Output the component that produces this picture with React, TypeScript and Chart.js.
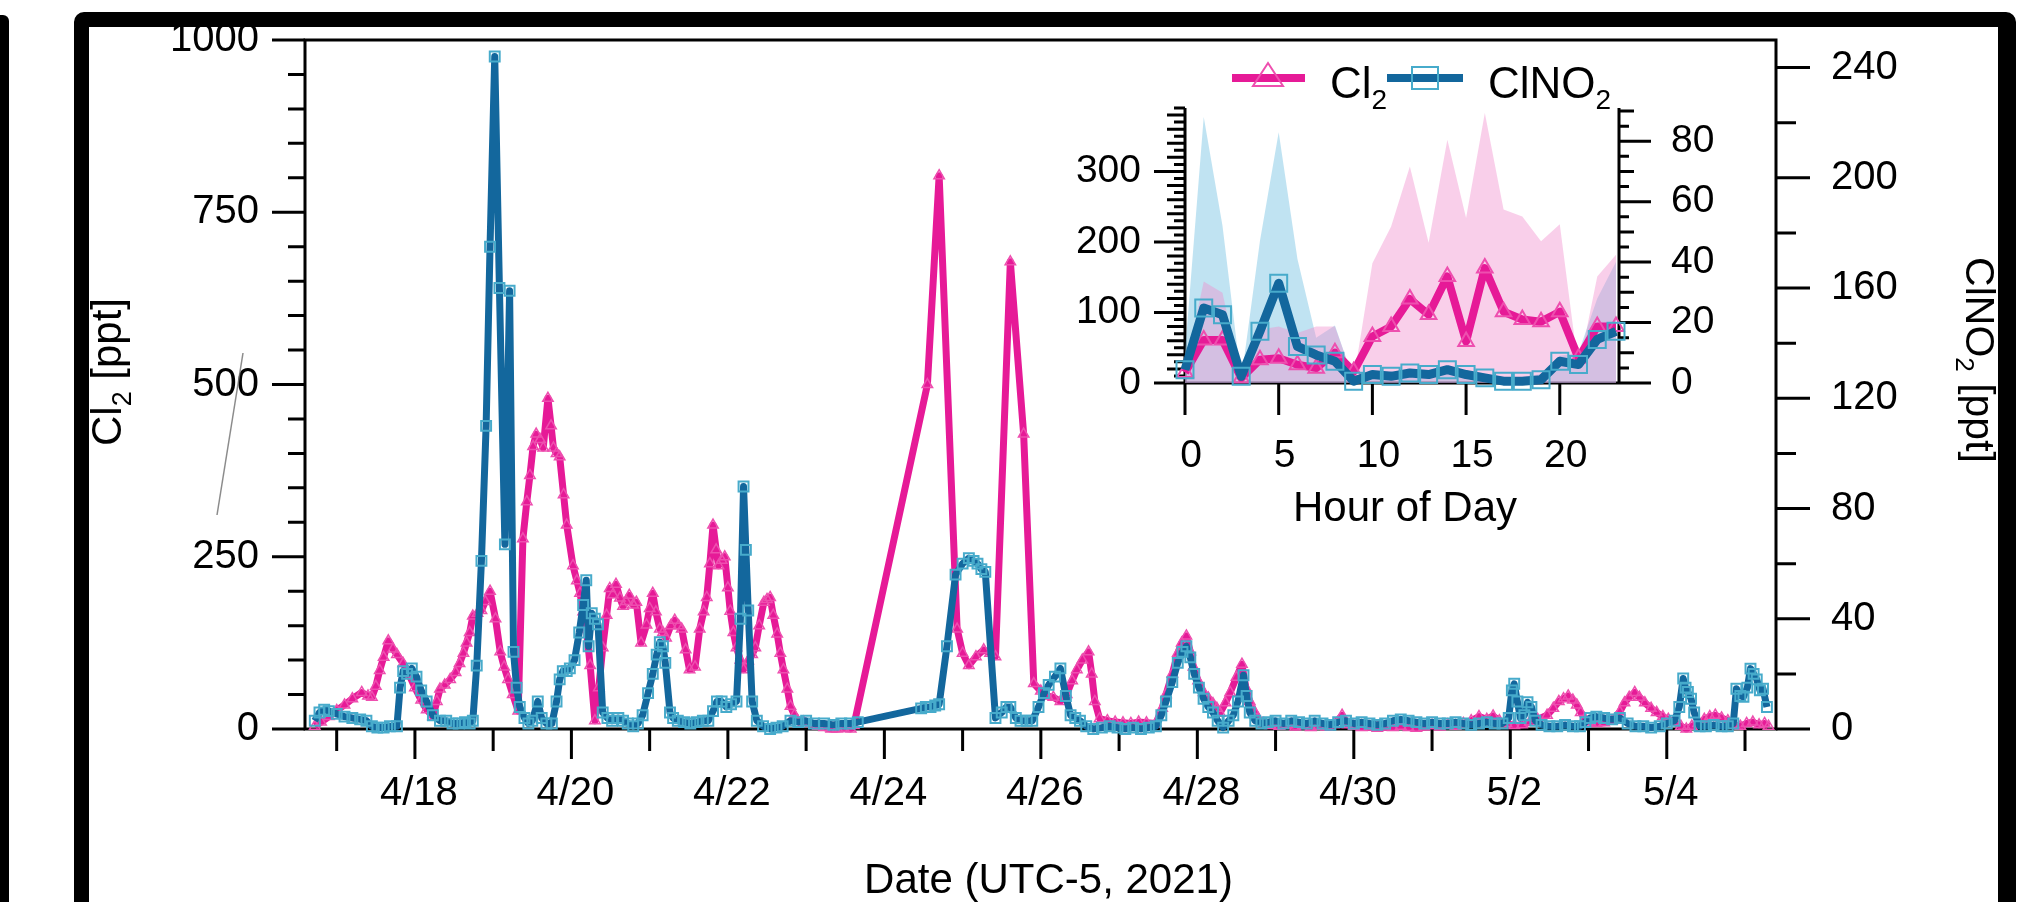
import React, { useEffect, useRef } from 'react';
import { Chart, registerables } from 'chart.js';

Chart.register(...registerables);

const W = 2027;
const H = 902;
const FONT = '"Liberation Sans", Arial, Helvetica, sans-serif';

// ---------------- Main time series (x = day of April 2021, May 1 = 31; UTC-5) ----------------
const cl2Days = [
  16.72, 16.8, 16.9, 17.0, 17.1, 17.2, 17.32, 17.4, 17.45, 17.5, 17.55, 17.6, 17.66, 17.72, 17.77, 17.85, 17.92, 18.0,
  18.08, 18.15, 18.23, 18.28, 18.32, 18.38, 18.45, 18.52, 18.57, 18.62, 18.66, 18.7, 18.74, 18.8, 18.85, 18.9, 18.96,
  19.03, 19.09, 19.14, 19.19, 19.25, 19.32, 19.38, 19.43, 19.47, 19.51, 19.55, 19.6, 19.64, 19.7, 19.74, 19.77, 19.81,
  19.85, 19.9, 19.94, 20.02, 20.07, 20.11, 20.15, 20.19, 20.24, 20.3, 20.35, 20.4, 20.45, 20.49, 20.53, 20.57, 20.62,
  20.66, 20.7, 20.74, 20.79, 20.83, 20.89, 20.96, 21.0, 21.04, 21.08, 21.13, 21.17, 21.21, 21.27, 21.32, 21.37, 21.41,
  21.46, 21.51, 21.58, 21.64, 21.69, 21.73, 21.77, 21.81, 21.85, 21.88, 21.92, 21.96, 22.0, 22.03, 22.07, 22.11, 22.16,
  22.2, 22.26, 22.31, 22.35, 22.4, 22.46, 22.5, 22.54, 22.58, 22.63, 22.67, 22.71, 22.76, 22.8, 22.85, 22.89, 22.97,
  23.06, 23.15, 23.23, 23.32, 23.4, 23.48, 23.57, 23.61, 24.55, 24.7, 24.93, 25.0, 25.08, 25.17, 25.27, 25.35, 25.42,
  25.61, 25.78, 25.91, 26.0, 26.08, 26.16, 26.25, 26.33, 26.4, 26.46, 26.53, 26.61, 26.65, 26.69, 26.75, 26.85, 26.95,
  27.05, 27.15, 27.25, 27.35, 27.47, 27.55, 27.6, 27.68, 27.75, 27.8, 27.86, 27.91, 27.95, 28.01, 28.08, 28.14, 28.2,
  28.25, 28.29, 28.36, 28.42, 28.5, 28.57, 28.62, 28.67, 28.72, 28.78, 28.85, 28.93, 29.05, 29.15, 29.25, 29.35, 29.45,
  29.55, 29.65, 29.75, 29.85, 29.92, 30.0, 30.1, 30.2, 30.3, 30.4, 30.5, 30.6, 30.7, 30.8, 30.9, 31.0, 31.1, 31.2, 31.3,
  31.4, 31.5, 31.6, 31.7, 31.78, 31.86, 31.95, 32.05, 32.15, 32.25, 32.35, 32.47, 32.55, 32.62, 32.68, 32.74, 32.8,
  32.85, 32.9, 32.95, 33.02, 33.1, 33.2, 33.3, 33.4, 33.46, 33.52, 33.59, 33.65, 33.72, 33.8, 33.87, 33.95, 34.02, 34.1,
  34.18, 34.25, 34.32, 34.4, 34.48, 34.55, 34.62, 34.7, 34.78, 34.86, 34.94, 35.02, 35.1, 35.18, 35.25, 35.3,
];
const cl2Ppt = [
  4, 10, 18, 27, 35, 44, 53, 48, 46, 62, 85, 104, 128, 116, 108, 95, 80, 60,
  42, 28, 18, 40, 58, 64, 72, 82, 95, 110, 125, 140, 164, 168, 172, 185, 200,
  160, 112, 90, 72, 50, 26, 276, 330, 368, 410, 428, 420, 408, 480, 440, 408, 400,
  395, 340, 296, 237, 215, 197, 170, 145, 92, 12, 60, 118, 165, 204, 195, 210, 190,
  178, 185, 194, 180, 184, 125, 151, 175, 197, 170, 145, 140, 132, 150, 158, 150, 145,
  115, 86, 90, 145, 170, 191, 240, 296, 260, 237, 245, 250, 205, 171, 140, 118, 100,
  86, 99, 108, 118, 150, 184, 188, 191, 165, 138, 110, 86, 58, 33, 20, 13, 10,
  8, 4, 2, 0, 0, 1, 0, 5, 500, 803, 145, 110, 92, 105, 115, 110, 105,
  678, 428, 66, 55, 48, 46, 40, 50, 70, 86, 100, 112, 80, 40, 15, 12, 10,
  9, 8, 10, 9, 8, 30, 50, 80, 110, 125, 135, 112, 90, 70, 53, 45, 37,
  30, 23, 38, 53, 75, 94, 60, 40, 27, 15, 8, 5, 4, 6, 3, 5, 2,
  4, 3, 6, 20, 6, 4, 2, 3, 1, 3, 2, 4, 2, 1, 3, 5, 3, 6, 4,
  8, 12, 18, 14, 19, 12, 8, 5, 6, 10, 14, 20, 30, 40, 44, 48, 42,
  35, 24, 15, 10, 8, 9, 12, 25, 38, 46, 53, 46, 38, 30, 24, 18, 14, 10,
  4, 0, 4, 8, 14, 18, 20, 16, 12, 6, 4, 8, 10, 6, 8, 4,
];

const clno2Days = [
  16.72, 16.78, 16.84, 16.9, 17.0, 17.1, 17.2, 17.3, 17.38, 17.45, 17.52, 17.6, 17.68, 17.77, 17.81, 17.85, 17.9, 17.96,
  18.02, 18.08, 18.15, 18.23, 18.32, 18.4, 18.48, 18.56, 18.64, 18.7, 18.74, 18.79, 18.85, 18.91, 18.96, 19.02, 19.08,
  19.15, 19.21, 19.26, 19.3, 19.34, 19.4, 19.45, 19.5, 19.57, 19.62, 19.68, 19.75, 19.81, 19.85, 19.89, 19.94, 19.98,
  20.04, 20.1, 20.15, 20.19, 20.22, 20.26, 20.3, 20.34, 20.4, 20.46, 20.52, 20.6, 20.66, 20.72, 20.79, 20.85, 20.91,
  20.98, 21.04, 21.09, 21.13, 21.17, 21.2, 21.26, 21.3, 21.36, 21.44, 21.52, 21.6, 21.68, 21.75, 21.81, 21.86, 21.92,
  21.98, 22.04, 22.11, 22.16, 22.2, 22.23, 22.26, 22.31, 22.37, 22.45, 22.54, 22.62, 22.7, 22.8, 22.9, 23.0, 23.1,
  23.23, 23.35, 23.45, 23.56, 23.66, 24.47, 24.53, 24.59, 24.65, 24.7, 24.8, 24.91, 25.0, 25.08, 25.14, 25.19, 25.24,
  25.29, 25.42, 25.5, 25.56, 25.61, 25.68, 25.74, 25.82, 25.89, 25.97, 26.04, 26.1, 26.18, 26.25, 26.32, 26.38, 26.44,
  26.5, 26.58, 26.67, 26.78, 26.88, 26.98, 27.08, 27.18, 27.28, 27.38, 27.47, 27.54, 27.6, 27.68, 27.75, 27.81, 27.86,
  27.91, 27.96, 28.02, 28.08, 28.14, 28.2, 28.26, 28.33, 28.4, 28.46, 28.52, 28.59, 28.63, 28.67, 28.74, 28.82, 28.9,
  29.0, 29.1, 29.2, 29.3, 29.4, 29.5, 29.6, 29.7, 29.8, 29.9, 30.0, 30.1, 30.2, 30.3, 30.4, 30.5, 30.6, 30.7, 30.8,
  30.9, 31.0, 31.1, 31.2, 31.3, 31.4, 31.5, 31.6, 31.7, 31.8, 31.9, 31.98, 32.02, 32.05, 32.09, 32.13, 32.18, 32.22,
  32.27, 32.32, 32.4, 32.5, 32.6, 32.7, 32.8, 32.89, 32.96, 33.02, 33.1, 33.2, 33.3, 33.4, 33.5, 33.6, 33.7, 33.8,
  33.91, 34.0, 34.1, 34.16, 34.21, 34.24, 34.27, 34.31, 34.35, 34.42, 34.5, 34.6, 34.7, 34.78, 34.85, 34.89, 34.94,
  34.98, 35.03, 35.07, 35.11, 35.15, 35.19, 35.23, 35.28,
];
const clno2Ppt = [
  3, 6, 7, 6.5, 5.5, 4.5, 4, 3.5, 3, 1, 0.5, 0.5, 1, 1, 15, 21, 20, 22,
  19, 14, 10, 5, 3, 3, 2, 2, 2.5, 2, 3, 23, 61, 110, 175, 244, 160,
  67, 159, 28, 15, 8, 4, 2, 3, 10, 4, 2, 2, 10, 18, 21, 21, 22,
  25, 35, 45, 54, 30, 42, 40, 38, 6, 4, 3, 4, 3, 2, 1, 2, 5,
  13, 20, 27, 31.5, 30, 24, 6, 4, 3, 2.5, 2, 2.5, 3, 3, 6.5, 10, 10,
  8, 9, 10, 40, 88, 65, 43, 10, 3, 1, 0, 0.5, 1, 3, 2.5, 3, 2,
  2, 1.5, 2, 2, 2.5, 7.5, 8, 8, 8.5, 9, 30, 56, 60, 62, 61, 60, 58,
  57, 4, 6, 8, 8, 4, 3, 3, 3, 8, 13, 16, 19, 22, 12, 5, 4,
  3, 1, 0, 0.5, 1, 0.5, 0, 0.5, 0, 0.5, 1, 5, 10, 17, 24, 28, 30,
  26, 20, 15, 11, 8, 6, 3, 0.5, 3, 5, 10, 19.5, 12, 6, 3, 2, 2.5,
  3, 2, 3, 2.5, 2, 3, 2, 1.5, 2.5, 3, 2, 2.5, 2, 1.5, 2, 3, 3.5, 3, 2.5,
  2, 2.5, 2, 2, 2.5, 2, 1.5, 2, 2.5, 2, 2, 4, 14, 16.4, 10, 4, 5, 9.7,
  8, 3, 1.5, 1, 1, 1.5, 1, 1, 2.5, 4, 4.5, 4, 3.5, 4, 2, 1, 1, 0.5,
  1, 2, 3, 8, 18.3, 15, 13.4, 11, 6, 1, 1, 1.5, 1, 1, 2, 14.6, 12,
  11.7, 15, 21.9, 20, 18, 14, 14.6, 8,
];

// Axis ticks (main)
const dateTickDays = [18, 20, 22, 24, 26, 28, 30, 32, 34];
const dateTickLabels = ['4/18', '4/20', '4/22', '4/24', '4/26', '4/28', '4/30', '5/2', '5/4'];
const cl2AxisTicks = [0, 250, 500, 750, 1000];
const clno2AxisTicks = [0, 40, 80, 120, 160, 200, 240];

// ---------------- Inset: diurnal profile ----------------
const hourOfDay = [0, 1, 2, 3, 4, 5, 6, 7, 8, 9, 10, 11, 12, 13, 14, 15, 16, 17, 18, 19, 20, 21, 22, 23];
const cl2HourMean = [15, 61, 61, 7, 33, 35, 26, 21, 43, 16, 66, 80, 119, 97, 151, 59, 163, 101, 90, 87, 101, 35, 80, 80];
const cl2HourUpper = [20, 144, 128, 5, 76, 80, 71, 80, 80, 5, 170, 222, 307, 199, 345, 234, 383, 246, 236, 201, 225, 19, 151, 182];
const clno2HourMean = [4.4, 24.8, 22.6, 2.2, 17.1, 33, 12.1, 9.3, 7.2, 0.6, 2.8, 2.2, 3.3, 2.8, 4.4, 2.8, 1.7, 0.6, 0.6, 1.1, 7.2, 6.1, 14.4, 17.1];
const clno2HourUpper = [10, 88, 52, 1, 47, 83, 41, 15, 19, 1, 4, 4, 4, 4, 5, 4, 3, 2, 2, 3, 9, 10, 28, 40];
const hourTicks = [0, 5, 10, 15, 20];
const insetCl2Ticks = [0, 100, 200, 300];
const insetClno2Ticks = [0, 20, 40, 60, 80];

// ---------------- Styles ----------------
const PINK = '#E61A97';
const PINK_MARK = '#EE4FAF';
const BLUE = '#13679D';
const TEAL = '#47ABCB';
const PINK_FILL = 'rgba(240,140,205,0.42)';
const BLUE_FILL = 'rgba(130,200,230,0.5)';

const MAIN_AREA = { left: 305, top: 40, right: 1776, bottom: 729 };
const INSET_AREA = { left: 1185, top: 108, right: 1619, bottom: 383 };
const X_MIN = 16.595;
const X_MAX = 35.396;

type Seg = { t: string; sub?: boolean };

function drawRich(ctx: any, segs: Seg[], x: number, y: number, angle: number, size: number, align = 'center') {
  ctx.save();
  ctx.translate(x, y);
  ctx.rotate(angle);
  const subSize = Math.round(size * 0.64);
  let total = 0;
  const widths = segs.map((s) => {
    ctx.font = `${s.sub ? subSize : size}px ${FONT}`;
    const w = ctx.measureText(s.t).width;
    total += w;
    return w;
  });
  let cx = align === 'center' ? -total / 2 : 0;
  ctx.fillStyle = '#000';
  ctx.textAlign = 'left';
  ctx.textBaseline = 'alphabetic';
  segs.forEach((s, i) => {
    ctx.font = `${s.sub ? subSize : size}px ${FONT}`;
    ctx.fillText(s.t, cx, s.sub ? size * 0.24 : 0);
    cx += widths[i];
  });
  ctx.restore();
}

const mainDecor = {
  id: 'mainDecor',
  beforeDatasetsDraw(chart: any) {
    const { ctx, chartArea: ca } = chart;
    const sx = chart.scales.x;
    const sl = chart.scales.y;
    const sr = chart.scales.y1;
    ctx.save();
    ctx.strokeStyle = '#000';
    ctx.lineWidth = 3;
    ctx.lineCap = 'butt';
    ctx.beginPath();
    ctx.rect(ca.left, ca.top, ca.right - ca.left, ca.bottom - ca.top);
    ctx.stroke();
    ctx.beginPath();
    for (let v = 0; v <= 1000; v += 50) {
      const y = sl.getPixelForValue(v);
      const len = cl2AxisTicks.includes(v) ? 33 : 17;
      ctx.moveTo(ca.left - len, y);
      ctx.lineTo(ca.left, y);
    }
    for (let v = 0; v <= 240; v += 20) {
      const y = sr.getPixelForValue(v);
      const len = clno2AxisTicks.includes(v) ? 34 : 20;
      ctx.moveTo(ca.right, y);
      ctx.lineTo(ca.right + len, y);
    }
    for (let d = 17; d <= 35; d++) {
      const x = sx.getPixelForValue(d);
      const len = dateTickDays.includes(d) ? 30 : 22;
      ctx.moveTo(x, ca.bottom);
      ctx.lineTo(x, ca.bottom + len);
    }
    ctx.stroke();
    // faint stray stroke near the left title, as in the source figure
    ctx.strokeStyle = 'rgba(110,110,110,0.8)';
    ctx.lineWidth = 1.5;
    ctx.beginPath();
    ctx.moveTo(ca.left - 62, ca.top + 313);
    ctx.lineTo(ca.left - 88, ca.top + 475);
    ctx.stroke();
    ctx.restore();
  },
  afterDraw(chart: any) {
    const { ctx, chartArea: ca } = chart;
    drawRich(ctx, [{ t: 'Date (UTC-5, 2021)' }], (ca.left + ca.right) / 2 + 8, 893, 0, 42);
    drawRich(ctx, [{ t: 'Cl' }, { t: '2', sub: true }, { t: ' [ppt]' }], 121, 372, -Math.PI / 2, 42);
    drawRich(ctx, [{ t: 'ClNO' }, { t: '2', sub: true }, { t: ' [ppt]' }], 1966, 360, Math.PI / 2, 41);
  },
};

const insetDecor = {
  id: 'insetDecor',
  beforeDatasetsDraw(chart: any) {
    const { ctx, chartArea: ca } = chart;
    const sx = chart.scales.x;
    const sl = chart.scales.yl;
    const sr = chart.scales.yr;
    ctx.save();
    ctx.strokeStyle = '#000';
    ctx.lineWidth = 3;
    ctx.beginPath();
    ctx.moveTo(ca.left, ca.top);
    ctx.lineTo(ca.left, ca.bottom);
    ctx.lineTo(ca.right, ca.bottom);
    ctx.lineTo(ca.right, ca.top);
    for (let v = 0; v <= 390; v += 10) {
      const y = sl.getPixelForValue(v);
      const len = v % 100 === 0 ? 31 : v % 20 === 0 ? 18 : 11;
      ctx.moveTo(ca.left - len, y);
      ctx.lineTo(ca.left, y);
    }
    for (let v = 0; v <= 90; v += 5) {
      const y = sr.getPixelForValue(v);
      const len = v % 20 === 0 ? 32 : v % 10 === 0 ? 15 : 10;
      ctx.moveTo(ca.right, y);
      ctx.lineTo(ca.right + len, y);
    }
    hourTicks.forEach((h) => {
      const x = sx.getPixelForValue(h);
      ctx.moveTo(x, ca.bottom);
      ctx.lineTo(x, ca.bottom + 32);
    });
    ctx.stroke();
    ctx.restore();
  },
  afterDraw(chart: any) {
    const { ctx, chartArea: ca } = chart;
    drawRich(ctx, [{ t: 'Hour of Day' }], (ca.left + ca.right) / 2 + 3, 521, 0, 42);
    // legend
    const ly = ca.top - 30;
    const ty = ca.top - 10;
    ctx.save();
    ctx.lineCap = 'butt';
    ctx.strokeStyle = PINK;
    ctx.lineWidth = 8;
    ctx.beginPath();
    ctx.moveTo(ca.left + 47, ly);
    ctx.lineTo(ca.left + 120, ly);
    ctx.stroke();
    const tx = ca.left + 83;
    ctx.strokeStyle = PINK_MARK;
    ctx.lineWidth = 2;
    ctx.beginPath();
    ctx.moveTo(tx, ly - 15);
    ctx.lineTo(tx + 15, ly + 8);
    ctx.lineTo(tx - 15, ly + 8);
    ctx.closePath();
    ctx.stroke();
    ctx.strokeStyle = BLUE;
    ctx.lineWidth = 8;
    ctx.beginPath();
    ctx.moveTo(ca.left + 202, ly);
    ctx.lineTo(ca.left + 278, ly);
    ctx.stroke();
    ctx.strokeStyle = TEAL;
    ctx.lineWidth = 2;
    ctx.strokeRect(ca.left + 240 - 13, ly - 11, 26, 22);
    ctx.restore();
    drawRich(ctx, [{ t: 'Cl' }, { t: '2', sub: true }], ca.left + 145, ty, 0, 44, 'left');
    drawRich(ctx, [{ t: 'ClNO' }, { t: '2', sub: true }], ca.left + 303, ty, 0, 44, 'left');
  },
};

const tickFont = (size: number) => ({ family: FONT, size });

function fixedTicks(values: number[]) {
  return (s: any) => {
    s.ticks = values.map((v) => ({ value: v }));
  };
}

function noPadV(size: number, key: 'width' | 'height') {
  return (s: any) => {
    s[key] = size;
    s.paddingTop = 0;
    s.paddingBottom = 0;
    s.paddingLeft = 0;
    s.paddingRight = 0;
  };
}

function mainConfig(): any {
  return {
    type: 'line',
    data: {
      datasets: [
        {
          label: 'ClNO2',
          data: clno2Days.map((d, i) => ({ x: d, y: clno2Ppt[i] })),
          yAxisID: 'y1',
          borderColor: BLUE,
          borderWidth: 7,
          borderJoinStyle: 'round',
          pointStyle: 'rect',
          pointRadius: 7,
          pointBorderWidth: 2,
          pointBorderColor: TEAL,
          pointBackgroundColor: 'rgba(0,0,0,0)',
          order: 0,
          clip: false,
        },
        {
          label: 'Cl2',
          data: cl2Days.map((d, i) => ({ x: d, y: cl2Ppt[i] })),
          yAxisID: 'y',
          borderColor: PINK,
          borderWidth: 7,
          borderJoinStyle: 'round',
          pointStyle: 'triangle',
          pointRadius: 6,
          pointBorderWidth: 1.5,
          pointBorderColor: PINK_MARK,
          pointBackgroundColor: 'rgba(0,0,0,0)',
          order: 1,
          clip: false,
        },
      ],
    },
    options: {
      responsive: false,
      animation: false,
      devicePixelRatio: 1,
      events: [],
      layout: { padding: { left: 0, right: 0, top: MAIN_AREA.top, bottom: 0 }, autoPadding: false },
      plugins: { legend: { display: false }, tooltip: { enabled: false } },
      scales: {
        x: {
          type: 'linear',
          min: X_MIN,
          max: X_MAX,
          grid: { display: false, drawTicks: false },
          border: { display: false },
          afterBuildTicks: fixedTicks(dateTickDays),
          ticks: {
            autoSkip: false,
            maxRotation: 0,
            padding: 41,
            labelOffset: 4,
            color: '#000',
            font: tickFont(40),
            callback: (_v: number, i: number) => dateTickLabels[i],
          },
          afterFit: noPadV(H - MAIN_AREA.bottom, 'height'),
        },
        y: {
          position: 'left',
          min: 0,
          max: 1000,
          grid: { display: false, drawTicks: false },
          border: { display: false },
          afterBuildTicks: fixedTicks(cl2AxisTicks),
          ticks: { padding: 46, color: '#000', font: tickFont(40), callback: (v: number) => String(v) },
          afterFit: noPadV(MAIN_AREA.left, 'width'),
        },
        y1: {
          position: 'right',
          min: 0,
          max: 250,
          grid: { display: false, drawTicks: false },
          border: { display: false },
          afterBuildTicks: fixedTicks(clno2AxisTicks),
          ticks: { padding: 55, color: '#000', font: tickFont(40), callback: (v: number) => String(v) },
          afterFit: noPadV(W - MAIN_AREA.right, 'width'),
        },
      },
    },
    plugins: [mainDecor],
  };
}

function insetConfig(): any {
  const wl = 200;
  const wr = 200;
  const hx = 150;
  return {
    type: 'line',
    data: {
      datasets: [
        {
          label: 'ClNO2',
          data: hourOfDay.map((h, i) => ({ x: h, y: clno2HourMean[i] })),
          yAxisID: 'yr',
          borderColor: BLUE,
          borderWidth: 9,
          borderJoinStyle: 'round',
          pointStyle: 'rect',
          pointRadius: 12,
          pointBorderWidth: 2,
          pointBorderColor: TEAL,
          pointBackgroundColor: 'rgba(0,0,0,0)',
          order: 0,
          clip: false,
        },
        {
          label: 'Cl2',
          data: hourOfDay.map((h, i) => ({ x: h, y: cl2HourMean[i] })),
          yAxisID: 'yl',
          borderColor: PINK,
          borderWidth: 8,
          borderJoinStyle: 'round',
          pointStyle: 'triangle',
          pointRadius: 9,
          pointBorderWidth: 2,
          pointBorderColor: PINK_MARK,
          pointBackgroundColor: 'rgba(0,0,0,0)',
          order: 1,
          clip: false,
        },
        {
          label: 'Cl2 range',
          data: hourOfDay.map((h, i) => ({ x: h, y: cl2HourUpper[i] })),
          yAxisID: 'yl',
          borderWidth: 0,
          pointRadius: 0,
          backgroundColor: PINK_FILL,
          fill: 'origin',
          order: 2,
        },
        {
          label: 'ClNO2 range',
          data: hourOfDay.map((h, i) => ({ x: h, y: clno2HourUpper[i] })),
          yAxisID: 'yr',
          borderWidth: 0,
          pointRadius: 0,
          backgroundColor: BLUE_FILL,
          fill: 'origin',
          order: 3,
        },
      ],
    },
    options: {
      responsive: false,
      animation: false,
      devicePixelRatio: 1,
      events: [],
      layout: {
        padding: {
          left: INSET_AREA.left - wl,
          right: W - INSET_AREA.right - wr,
          top: INSET_AREA.top,
          bottom: H - INSET_AREA.bottom - hx,
        },
        autoPadding: false,
      },
      plugins: { legend: { display: false }, tooltip: { enabled: false } },
      scales: {
        x: {
          type: 'linear',
          min: 0,
          max: 23.16,
          grid: { display: false, drawTicks: false },
          border: { display: false },
          afterBuildTicks: fixedTicks(hourTicks),
          ticks: {
            autoSkip: false,
            maxRotation: 0,
            padding: 50,
            labelOffset: 6,
            color: '#000',
            font: tickFont(39),
            callback: (v: number) => String(v),
          },
          afterFit: noPadV(hx, 'height'),
        },
        yl: {
          position: 'left',
          min: 0,
          max: 390,
          grid: { display: false, drawTicks: false },
          border: { display: false },
          afterBuildTicks: fixedTicks(insetCl2Ticks),
          ticks: { padding: 44, color: '#000', font: tickFont(39), callback: (v: number) => String(v) },
          afterFit: noPadV(wl, 'width'),
        },
        yr: {
          position: 'right',
          min: 0,
          max: 91,
          grid: { display: false, drawTicks: false },
          border: { display: false },
          afterBuildTicks: fixedTicks(insetClno2Ticks),
          ticks: { padding: 52, color: '#000', font: tickFont(39), callback: (v: number) => String(v) },
          afterFit: noPadV(wr, 'width'),
        },
      },
    },
    plugins: [insetDecor],
  };
}

export default function App() {
  const mainRef = useRef<HTMLCanvasElement>(null);
  const insetRef = useRef<HTMLCanvasElement>(null);

  useEffect(() => {
    const main = new Chart(mainRef.current as HTMLCanvasElement, mainConfig());
    const inset = new Chart(insetRef.current as HTMLCanvasElement, insetConfig());
    return () => {
      main.destroy();
      inset.destroy();
    };
  }, []);

  const canvasStyle: React.CSSProperties = { position: 'absolute', left: 0, top: 0, width: W, height: H };

  return (
    <div style={{ position: 'absolute', left: 0, top: 0, width: W, height: H, background: '#fff', overflow: 'hidden' }}>
      <div
        style={{
          position: 'absolute',
          left: 0,
          top: 15,
          width: 9,
          height: H,
          background: '#000',
          borderTopRightRadius: 6,
        }}
      />
      <div
        style={{
          position: 'absolute',
          left: 74,
          top: 12,
          width: 1942,
          height: H + 40,
          borderStyle: 'solid',
          borderColor: '#000',
          borderWidth: '15px 18px 15px 15px',
          borderRadius: 10,
          boxSizing: 'border-box',
          background: '#fff',
        }}
      />
      <canvas ref={mainRef} width={W} height={H} style={canvasStyle} />
      <canvas ref={insetRef} width={W} height={H} style={canvasStyle} />
    </div>
  );
}
